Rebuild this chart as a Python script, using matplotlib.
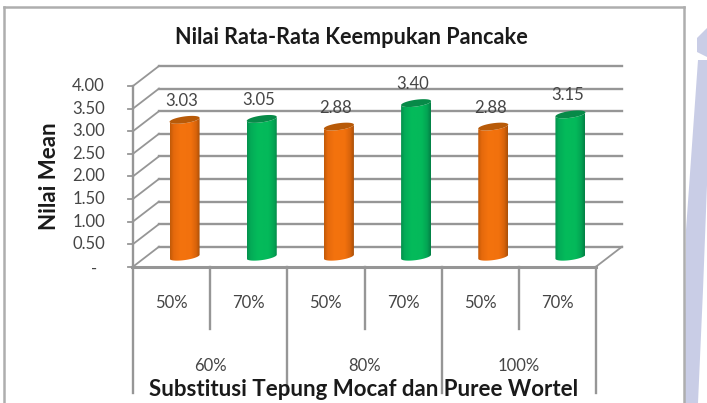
import numpy as np
import matplotlib
matplotlib.use("Agg")
import matplotlib.pyplot as plt
from matplotlib.path import Path
from matplotlib.patches import PathPatch, Polygon
from matplotlib.colors import LinearSegmentedColormap

values = [3.03, 3.05, 2.88, 3.40, 2.88, 3.15]
value_labels = ["3.03", "3.05", "2.88", "3.40", "2.88", "3.15"]
inner_labels = ["50%", "70%", "50%", "70%", "50%", "70%"]
outer_labels = ["60%", "80%", "100%"]
y_ticks = [0, 0.5, 1, 1.5, 2, 2.5, 3, 3.5, 4]
y_tick_labels = ["-", "0.50", "1.00", "1.50", "2.00", "2.50", "3.00", "3.50", "4.00"]
series_kind = [0, 1, 0, 1, 0, 1]
title = "Nilai Rata-Rata Keempukan Pancake"
x_title = "Substitusi Tepung Mocaf dan Puree Wortel"
y_title = "Nilai Mean"

W, H = 707, 403
plt.rcParams["font.family"] = ["Lato", "DejaVu Sans"]
fig = plt.figure(figsize=(W / 100, H / 100), dpi=100, facecolor="white")

# page background layer in pixel coordinates
bg = fig.add_axes([0, 0, 1, 1], zorder=0)
bg.set_xlim(0, W); bg.set_ylim(H, 0); bg.axis("off")
wm = "#c9cde6"
bg.add_patch(Polygon([[698, 60], [707, 60], [707, 185], [703, 290], [698, 403], [684, 403], [686, 230]],
                     fc=wm, ec="none"))
bg.add_patch(Polygon([[697, 38], [707, 28], [707, 57], [697, 52]], fc=wm, ec="none"))
frame = "#aeaeae"
bg.plot([3.5, 3.5], [403, 7], color=frame, lw=1.8)
bg.plot([3.5, 684], [7, 7], color=frame, lw=1.8)
bg.plot([684, 684], [7, 403], color=frame, lw=1.8)

# plotting plane: x in categories, y in value units (front wall)
L, R, T, B = 133, 596, 86, 266.7
ax = fig.add_axes([L / W, 1 - B / H, (R - L) / W, (B - T) / H], zorder=2)
ax.set_xlim(0, 6); ax.set_ylim(0, 4)
ax.patch.set_alpha(0)
for s in ax.spines.values():
    s.set_visible(False)
ax.set_xticks([]); ax.set_yticks([])

px_x = (R - L) / 6
px_y = (B - T) / 4
depth_x = 26 / px_x
depth_y = 20 / px_y
grid = "#969696"
text_col = "#454545"
for t, lab in zip(y_ticks, y_tick_labels):
    ax.plot([0, depth_x], [t, t + depth_y], color=grid, lw=1.3, clip_on=False, zorder=1)
    ax.plot([depth_x, 6 + depth_x], [t + depth_y, t + depth_y], color=grid, lw=1.7, clip_on=False, zorder=1)
    ax.plot([-5 / px_x, 0], [t, t], color=grid, lw=1.3, clip_on=False, zorder=1)
    if lab == "-":
        ax.text(-39 / px_x, t - 2 / px_y, lab, ha="center", va="center", fontsize=12, color=text_col, clip_on=False)
    else:
        ax.text(-28 / px_x, t, lab, ha="right", va="center", fontsize=12, color=text_col, clip_on=False)
ax.plot([0, 0], [0, 4], color=grid, lw=1.7, clip_on=False, zorder=1)
ax.plot([6, 6 + depth_x], [0, depth_y], color=grid, lw=1.3, clip_on=False, zorder=1)
ax.plot([-1 / px_x, 6], [0, 0], color=grid, lw=2.2, clip_on=False, zorder=1)

# multi-level category axis
major_end = -(393 - B) / px_y
minor_end = -(329 - B) / px_y
for i in range(7):
    end = major_end if i % 2 == 0 else minor_end
    ax.plot([i, i], [0, end], color=grid, lw=1.7, clip_on=False, zorder=1)
for i, lab in enumerate(inner_labels):
    ax.text(i + 0.5, -(303 - B) / px_y, lab, ha="center", va="center", fontsize=12, color=text_col)
for i, lab in enumerate(outer_labels):
    ax.text(2 * i + 1, -(366 - B) / px_y, lab, ha="center", va="center", fontsize=12, color=text_col)

# cylinders
cmaps = [
    LinearSegmentedColormap.from_list("o", [(0, "#c05a08"), (0.12, "#e5690c"), (0.35, "#f4730e"), (0.7, "#f2710d"),
                                            (0.88, "#d8630b"), (1, "#a84f08")]),
    LinearSegmentedColormap.from_list("g", [(0, "#04904c"), (0.12, "#03ab57"), (0.35, "#04bb5b"), (0.7, "#04b95a"),
                                            (0.88, "#03a353"), (1, "#047f45")]),
]
tops = ["#b85a08", "#078a48"]
grad = np.linspace(0, 1, 128).reshape(1, -1)
half_w = 15.0 / px_x
rx, ry = half_w, 3.4 / px_y
tilt = 2.0 / px_y
base = 10 / px_y
label_shift = -3 / px_x
theta = np.linspace(0, 2 * np.pi, 80)
for i, v in enumerate(values):
    cx = i + 0.5 + depth_x / 2
    y_top = v + base
    ex = rx * np.cos(theta)
    ey = ry * np.sin(theta) + tilt * np.cos(theta)
    lower = theta[(theta >= np.pi)]
    bx = cx + rx * np.cos(lower)
    by_top = y_top + ry * np.sin(lower) + tilt * np.cos(lower)
    by_bot = base + ry * np.sin(lower) + tilt * np.cos(lower)
    verts = np.r_[np.c_[bx, by_bot], np.c_[bx[::-1], by_top[::-1]]]
    body = PathPatch(Path(np.r_[verts, verts[:1]]), fc="none", ec="none", transform=ax.transData)
    ax.add_patch(body)
    im = ax.imshow(grad, cmap=cmaps[series_kind[i]], extent=(cx - rx, cx + rx, 0, y_top + ry),
                   aspect="auto", zorder=3, origin="lower")
    im.set_clip_path(body)
    ax.fill(cx + ex, y_top + ey, color=tops[series_kind[i]], zorder=4, lw=0, clip_on=False)
    ax.text(cx + label_shift, y_top + 19 / px_y, value_labels[i], ha="center", va="center",
            fontsize=12, color=text_col, zorder=5, clip_on=False)
ax.set_xlim(0, 6); ax.set_ylim(0, 4)

bold = "#1a1a1a"
fig.text(351 / W, 1 - 38 / H, title, ha="center", va="center", fontsize=15.6, fontweight="bold", color=bold)
fig.text(50 / W, 1 - 176 / H, y_title, rotation=90, ha="center", va="center", fontsize=16, fontweight="bold", color=bold)
fig.text(364 / W, 1 - 389 / H, x_title, ha="center", va="center", fontsize=16, fontweight="bold", color=bold, zorder=6)

fig.savefig("out.png", dpi=100)
